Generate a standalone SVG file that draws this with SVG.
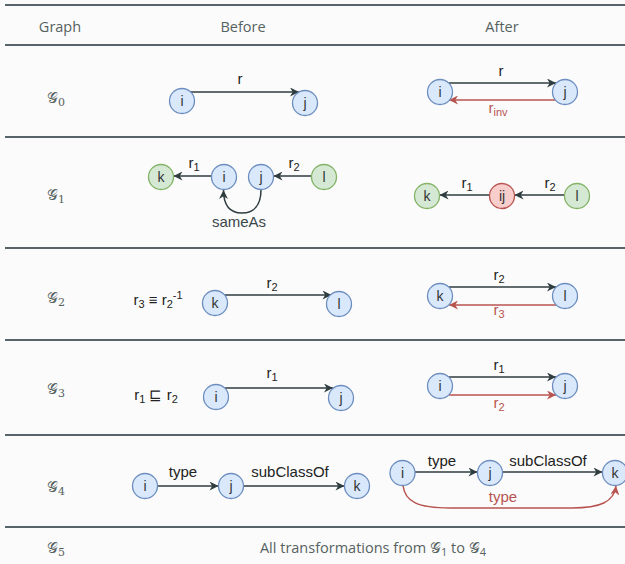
<svg xmlns="http://www.w3.org/2000/svg" width="625" height="564" viewBox="0 0 625 564">
<defs>
<marker id="ad" viewBox="0 0 10 10" refX="10" refY="5" markerWidth="10" markerHeight="9" markerUnits="userSpaceOnUse" orient="auto"><path d="M0,0 L10,5 L0,10 L3,5 Z" fill="#2f3d40"/></marker>
<marker id="ar" viewBox="0 0 10 10" refX="10" refY="5" markerWidth="10" markerHeight="9" markerUnits="userSpaceOnUse" orient="auto"><path d="M0,0 L10,5 L0,10 L3,5 Z" fill="#b85450"/></marker>
<style>
.rule{stroke:#56646a;stroke-width:1.8}
.tt{font-family:"Open Sans","Noto Sans",sans-serif;font-size:14.5px;fill:#56625f}
.gl{font-family:"DejaVu Serif","Noto Sans",serif;font-size:15px;fill:#56625f}
.b{fill:#dae8fc;stroke:#6c8ebf;stroke-width:1.3}
.g{fill:#d5e8d4;stroke:#82b366;stroke-width:1.3}
.r{fill:#f8cecc;stroke:#b85450;stroke-width:1.3}
.nl{font-family:"Liberation Sans",Arial,sans-serif;font-size:14px;fill:#333;text-anchor:middle}
.el{font-family:"Liberation Sans",Arial,sans-serif;font-size:15px;fill:#222;text-anchor:middle}
.er{font-family:"Liberation Sans",Arial,sans-serif;font-size:15px;fill:#b85450;text-anchor:middle}
.ed{stroke:#2f3d40;stroke-width:1.5;fill:none;marker-end:url(#ad)}
.ex{stroke:#b85450;stroke-width:1.5;fill:none;marker-end:url(#ar)}
.sub{font-size:11px}
</style>
</defs>
<rect width="625" height="564" fill="#fbfbfb"/>

<g id="table">
<line class="rule" x1="5" y1="5" x2="625" y2="5"/>
<line class="rule" x1="5" y1="45" x2="625" y2="45"/>
<line class="rule" x1="5" y1="137" x2="625" y2="137"/>
<line class="rule" x1="5" y1="248" x2="625" y2="248"/>
<line class="rule" x1="5" y1="340" x2="625" y2="340"/>
<line class="rule" x1="5" y1="435" x2="625" y2="435"/>
<line class="rule" x1="5" y1="527" x2="625" y2="527"/>
<text class="tt" x="60" y="32" text-anchor="middle">Graph</text>
<text class="tt" x="243" y="32" text-anchor="middle">Before</text>
<text class="tt" x="502" y="32" text-anchor="middle">After</text>
<text class="gl" x="47" y="103">𝒢<tspan class="sub" dy="3">0</tspan></text>
<text class="gl" x="47" y="200">𝒢<tspan class="sub" dy="3">1</tspan></text>
<text class="gl" x="47" y="303">𝒢<tspan class="sub" dy="3">2</tspan></text>
<text class="gl" x="47" y="394">𝒢<tspan class="sub" dy="3">3</tspan></text>
<text class="gl" x="47" y="492">𝒢<tspan class="sub" dy="3">4</tspan></text>
<text class="gl" x="47" y="553">𝒢<tspan class="sub" dy="3">5</tspan></text>
<text class="tt" x="373" y="553" text-anchor="middle">All transformations from <tspan class="gl" style="font-size:15px">𝒢</tspan><tspan class="sub" dy="3">1</tspan><tspan dy="-3"> to </tspan><tspan class="gl" style="font-size:15px">𝒢</tspan><tspan class="sub" dy="3">4</tspan></text>
</g>

<g id="connectors">
<line class="ed" x1="190" y1="92" x2="299" y2="92"/>
<line class="ed" x1="449" y1="83" x2="556" y2="83"/>
<line class="ex" x1="556" y1="100" x2="449" y2="100"/>
<line class="ed" x1="211.5" y1="176" x2="173.5" y2="176"/>
<line class="ed" x1="311.5" y1="176" x2="273.5" y2="176"/>
<path class="ed" d="M261,189.5 C261,205 254,213 242,213 C230,213 223.5,205 223.5,190"/>
<line class="ed" x1="489.5" y1="195" x2="439.5" y2="195"/>
<line class="ed" x1="564.5" y1="195" x2="514.5" y2="195"/>
<line class="ed" x1="224.5" y1="295" x2="331.5" y2="295"/>
<line class="ed" x1="449" y1="287" x2="556" y2="287"/>
<line class="ex" x1="556" y1="305" x2="449" y2="305"/>
<line class="ed" x1="225" y1="388" x2="333" y2="388"/>
<line class="ed" x1="449" y1="377" x2="556" y2="377"/>
<line class="ex" x1="449" y1="395" x2="556" y2="395"/>
<line class="ed" x1="157.5" y1="486" x2="218.5" y2="486"/>
<line class="ed" x1="243.5" y1="486" x2="344.5" y2="486"/>
<line class="ed" x1="415" y1="472" x2="477.5" y2="472"/>
<line class="ed" x1="502.5" y1="472" x2="602.5" y2="472"/>
<path class="ex" d="M403,485.5 C405,502 418,508 450,508 L572,508 C600,508 614,502 616,486"/>
</g>

<g id="labels">
<text class="el" x="240" y="84">r</text>
<text class="el" x="501" y="76">r</text>
<text class="er" x="498" y="113">r<tspan class="sub" dy="3">inv</tspan></text>
<text class="el" x="194" y="168">r<tspan class="sub" dy="3">1</tspan></text>
<text class="el" x="294" y="168">r<tspan class="sub" dy="3">2</tspan></text>
<text class="el" x="239" y="227" style="fill:#3a474a">sameAs</text>
<text class="el" x="467" y="188">r<tspan class="sub" dy="3">1</tspan></text>
<text class="el" x="550" y="188">r<tspan class="sub" dy="3">2</tspan></text>
<text class="el" x="158" y="305">r<tspan class="sub" dy="3">3</tspan><tspan dy="-3"> ≡ r</tspan><tspan class="sub" dy="3">2</tspan><tspan class="sub" dy="-9">-1</tspan></text>
<text class="el" x="272" y="288">r<tspan class="sub" dy="3">2</tspan></text>
<text class="el" x="499" y="280">r<tspan class="sub" dy="3">2</tspan></text>
<text class="er" x="499" y="315">r<tspan class="sub" dy="3">3</tspan></text>
<text class="el" x="156" y="400">r<tspan class="sub" dy="3">1</tspan><tspan dy="-3"> ⊑ r</tspan><tspan class="sub" dy="3">2</tspan></text>
<text class="el" x="272" y="378">r<tspan class="sub" dy="3">1</tspan></text>
<text class="el" x="499" y="370">r<tspan class="sub" dy="3">1</tspan></text>
<text class="er" x="499" y="408">r<tspan class="sub" dy="3">2</tspan></text>
<text class="el" x="183" y="477">type</text>
<text class="el" x="290" y="477">subClassOf</text>
<text class="el" x="442" y="466">type</text>
<text class="el" x="548" y="466">subClassOf</text>
<text class="er" x="503" y="502">type</text>
</g>

<g id="g0-before-i"><circle class="b" cx="182" cy="101" r="12.5"/><text class="nl" x="182" y="106">i</text></g>
<g id="g0-before-j"><circle class="b" cx="305" cy="103" r="12.5"/><text class="nl" x="305" y="108">j</text></g>
<g id="g0-after-i"><circle class="b" cx="440" cy="92" r="12.5"/><text class="nl" x="440" y="97">i</text></g>
<g id="g0-after-j"><circle class="b" cx="565" cy="92" r="12.5"/><text class="nl" x="565" y="97">j</text></g>

<g id="g1-before-k"><circle class="g" cx="161" cy="177" r="12.5"/><text class="nl" x="161" y="182">k</text></g>
<g id="g1-before-i"><circle class="b" cx="224" cy="177" r="12.5"/><text class="nl" x="224" y="182">i</text></g>
<g id="g1-before-j"><circle class="b" cx="261" cy="177" r="12.5"/><text class="nl" x="261" y="182">j</text></g>
<g id="g1-before-l"><circle class="g" cx="324" cy="177" r="12.5"/><text class="nl" x="324" y="182">l</text></g>
<g id="g1-after-k"><circle class="g" cx="427" cy="196" r="12.5"/><text class="nl" x="427" y="201">k</text></g>
<g id="g1-after-ij"><circle class="r" cx="502" cy="196" r="12.5"/><text class="nl" x="502" y="201">ij</text></g>
<g id="g1-after-l"><circle class="g" cx="577" cy="196" r="12.5"/><text class="nl" x="577" y="201">l</text></g>

<g id="g2-before-k"><circle class="b" cx="215" cy="303" r="12.5"/><text class="nl" x="215" y="308">k</text></g>
<g id="g2-before-l"><circle class="b" cx="339" cy="304" r="12.5"/><text class="nl" x="339" y="309">l</text></g>
<g id="g2-after-k"><circle class="b" cx="440" cy="296" r="12.5"/><text class="nl" x="440" y="301">k</text></g>
<g id="g2-after-l"><circle class="b" cx="565" cy="296" r="12.5"/><text class="nl" x="565" y="301">l</text></g>

<g id="g3-before-i"><circle class="b" cx="216" cy="397" r="12.5"/><text class="nl" x="216" y="402">i</text></g>
<g id="g3-before-j"><circle class="b" cx="341" cy="398" r="12.5"/><text class="nl" x="341" y="403">j</text></g>
<g id="g3-after-i"><circle class="b" cx="440" cy="386" r="12.5"/><text class="nl" x="440" y="391">i</text></g>
<g id="g3-after-j"><circle class="b" cx="565" cy="386" r="12.5"/><text class="nl" x="565" y="391">j</text></g>

<g id="g4-before-i"><circle class="b" cx="145" cy="486" r="12.5"/><text class="nl" x="145" y="491">i</text></g>
<g id="g4-before-j"><circle class="b" cx="231" cy="486" r="12.5"/><text class="nl" x="231" y="491">j</text></g>
<g id="g4-before-k"><circle class="b" cx="357" cy="486" r="12.5"/><text class="nl" x="357" y="491">k</text></g>
<g id="g4-after-i"><circle class="b" cx="402.5" cy="473" r="12.5"/><text class="nl" x="402.5" y="478">i</text></g>
<g id="g4-after-j"><circle class="b" cx="490" cy="473" r="12.5"/><text class="nl" x="490" y="478">j</text></g>
<g id="g4-after-k"><circle class="b" cx="615" cy="473" r="12.5"/><text class="nl" x="615" y="478">k</text></g>
</svg>
